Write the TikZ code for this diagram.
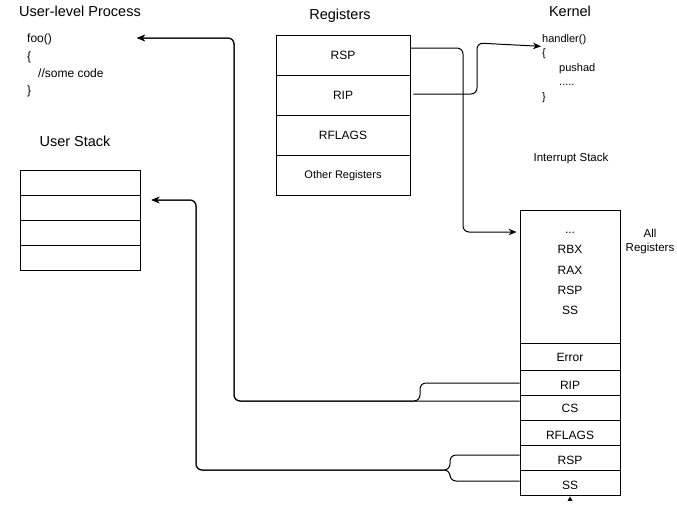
\documentclass[tikz,border=0pt]{standalone}
\usepackage{fontspec}
\setmainfont{Liberation Sans}
\usetikzlibrary{arrows.meta,calc}
\begin{document}
\begin{tikzpicture}[x=1pt,y=-1pt,
  title/.style={font=\fontsize{14.5}{17}\selectfont, inner sep=0pt},
  label/.style={inner sep=0pt},
  cell/.style={draw, line width=0.9pt, inner sep=0pt, font=\fontsize{12}{14}\selectfont},
  regcell/.style={cell, minimum width=134pt, minimum height=40pt},
  uscell/.style={cell, minimum width=120pt, minimum height=25pt},
  stcell/.style={cell, minimum width=100pt, minimum height=25pt},
  lowtext/.style={text height=#1, text depth=0pt},
  edge/.style={draw, line width=1pt, rounded corners=6pt},
  arr/.style={edge, -{Stealth[length=8pt,width=6.5pt]}}
]
\useasboundingbox (0,0) rectangle (677,504);

% titles
\node[title] (tup) at (80,11) {User-level Process};
\node[title] (treg) at (340,16) {Registers};
\node[title] (tker) at (570,11) {Kernel};
\node[title] (tus) at (75,141) {User Stack};
\node[label, font=\fontsize{11.5}{14}\selectfont] (tis) at (571,159) {Interrupt Stack};
\node[label, align=center, font=\fontsize{11.5}{14}\selectfont] (tall) at (650,241.5) {All\\Registers};

% user code
\node[label, anchor=north west, align=left, font=\fontsize{12}{17.2}\selectfont] (ucode) at (27,34)
  {foo()\\\{\\\hspace*{11pt}//some code\\\}};
\coordinate (utarget) at (137,38);

% kernel code
\node[label, anchor=north west, align=left, font=\fontsize{11}{14.5}\selectfont] (kcode) at (542,34)
  {handler()\\\{\\\hspace*{17pt}pushad\\\hspace*{17pt}.....\\\}};

% registers
\node[regcell] (rrsp) at (343,55.5) {RSP};
\node[regcell] (rrip) at (343,95.5) {RIP};
\node[regcell] (rrfl) at (343,135.5) {RFLAGS};
\node[regcell, font=\fontsize{11}{13}\selectfont] (roth) at (343,175.5) {Other Registers};

% user stack
\node[uscell] (us1) at (80,182.5) {};
\node[uscell] (us2) at (80,207.5) {};
\node[uscell] (us3) at (80,232.5) {};
\node[uscell] (us4) at (80,257.5) {};

% interrupt stack
\node[cell, minimum width=100pt, minimum height=133pt] (stop) at (570,276.5) {};
\node[label, align=center, font=\fontsize{12}{20.2}\selectfont] (stxt) at (570,273.5) {...\\RBX\\RAX\\RSP\\SS};
\node[stcell, minimum height=27pt, lowtext=10.6pt] (serr) at (570,356.5) {Error};
\node[stcell, lowtext=13.6pt] (srip) at (570,383) {RIP};
\node[stcell] (scs) at (570,408) {CS};
\node[stcell, lowtext=13.6pt] (srfl) at (570,433) {RFLAGS};
\node[stcell, lowtext=13.6pt] (srsp) at (570,458) {RSP};
\node[stcell, lowtext=13.6pt] (sss) at (570,483) {SS};

% connectors
\draw[arr] ($(rrsp.east)+(0,-7.5)$) -- (463,48) -- (463,232) -- ($(stop.west)+(-3,-44.5)$);
\draw[arr] ($(rrip.east)+(3,-1.5)$) -- (477,94) -- (477,43) -- ($(kcode.west)+(-1,-22)$);
\draw[arr] (srip.west) -- (420,383) -- (420,401) -- (234,401) -- (234,38) -- (utarget);
\draw[arr] ($(scs.west)+(0,-7)$) -- (234,401) -- (234,38) -- (utarget);
\draw[arr] ($(srsp.west)+(0,-3)$) -- (450,455) -- (450,470) -- (196,470) -- (196,200) -- ($(us2.east)+(11,-7.5)$);
\draw[arr] ($(sss.west)+(0,-2)$) -- (450,481) -- (450,470) -- (196,470) -- (196,200) -- ($(us2.east)+(11,-7.5)$);

% tiny arrow tip at the bottom of the interrupt stack
\fill ($(sss.south)+(-2.5,5)$) -- ($(sss.south)+(0,0.5)$) -- ($(sss.south)+(2.5,5)$) -- cycle;
\end{tikzpicture}
\end{document}
